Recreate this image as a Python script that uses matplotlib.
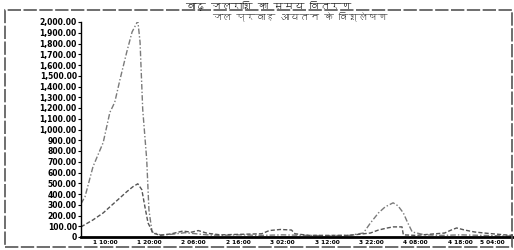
import matplotlib
matplotlib.use("Agg")
import matplotlib.pyplot as plt
from matplotlib import font_manager
from matplotlib.ft2font import FT2Font
from matplotlib.patches import Rectangle

# ---- find a font with Devanagari glyphs, if any ----
deva_family = None
for fe in font_manager.fontManager.ttflist:
    try:
        cm = FT2Font(fe.fname).get_charmap()
        if 0x0915 in cm and 0x093F in cm:
            deva_family = fe.name
            break
    except Exception:
        pass
fams = ([deva_family] if deva_family else []) + ["DejaVu Sans"]

# ---- data ----
title_text = "बाढ़ जलराशि का समय वितरण"
inner_title = "जल प्रवाह आयतन के विश्लेषण"

s1_x = [-5.4, -4.5, -2.7, -0.4, 1.1, 2.2, 3.4, 4.9, 6.1, 7.4, 7.9, 8.5, 9.4, 9.9, 10.6, 12.4,
        15.0, 18.0, 20.5, 23.0, 26.0, 30.0, 35.0, 40.0, 45.0, 50.0, 55.0, 58.2, 59.8, 61.6,
        63.1, 64.9, 66.0, 67.2, 68.1, 69.2, 72.0, 76.0, 80.0, 85.0, 90.0, 92.0]
s1_y = [310, 374, 654, 879, 1159, 1253, 1468, 1720, 1907, 2010, 1814, 1187, 720, 252, 47, 20,
        25, 40, 30, 20, 15, 20, 15, 20, 15, 12, 15, 37, 131, 224,
        280, 318, 290, 224, 140, 47, 20, 15, 20, 15, 10, 10]

s2_x = [-5.4, -2.7, -0.4, 1.1, 3.4, 4.9, 6.3, 7.4, 8.3, 9.0, 9.7, 10.8, 12.5,
        15.0, 17.5, 19.5, 21.0, 23.0, 26.0, 35.3, 37.0, 39.5, 42.0, 42.8, 46.0, 55.0,
        59.8, 61.6, 63.6, 64.9, 66.9, 67.2, 70.0, 76.5, 78.0, 79.2, 81.0, 83.2, 85.4, 90.0, 92.0]
s2_y = [94, 159, 224, 280, 365, 421, 468, 495, 440, 280, 131, 37, 15,
        30, 55, 45, 60, 35, 20, 30, 60, 70, 65, 30, 15, 15,
        37, 65, 84, 94, 94, 20, 15, 37, 65, 84, 65, 47, 37, 20, 15]

y_ticks = list(range(0, 2001, 100))
x_ticks = [0, 10, 20, 30, 40, 50, 60, 70, 80, 90]
x_labels = ["1 10:00", "1 20:00", "2 06:00", "2 16:00", "3 02:00",
            "3 12:00", "3 22:00", "4 08:00", "4 18:00", "5 04:00"]

# ---- figure ----
fig = plt.figure(figsize=(5.14, 2.5), dpi=100)
fig.patch.set_facecolor("white")

# outer frame
fig.add_artist(Rectangle((5 / 514, 3 / 250), 507 / 514, 237 / 250,
                         transform=fig.transFigure, fill=False,
                         edgecolor="#555555", linewidth=1.2, linestyle=(0, (8, 1.5))))

ax = fig.add_axes([81 / 514, 13 / 250, 432 / 514, 215 / 250])
ax.plot(s1_x, s1_y, color="#7a7a7a", linestyle=(0, (4, 1.5, 1, 1.5)), linewidth=1.0)
ax.plot(s2_x, s2_y, color="#555555", linestyle=(0, (3, 1.5)), linewidth=1.0)

ax.set_xlim(-5.4, 91.9)
ax.set_ylim(0, 2000)
ax.set_yticks(y_ticks)
ax.set_yticklabels(["0" if v == 0 else f"{v:,.2f}" for v in y_ticks],
                   fontsize=5.5, fontweight="bold")
ax.set_xticks(x_ticks)
ax.set_xticklabels(x_labels, fontsize=4.2, fontweight="bold")
ax.get_xticklabels()[-1].set_horizontalalignment("right")
ax.tick_params(axis="y", length=2, width=0.8, pad=1)
ax.tick_params(axis="x", length=0, pad=2)
for s in ["top", "right"]:
    ax.spines[s].set_visible(False)
ax.spines["left"].set_linewidth(1.0)
ax.spines["bottom"].set_linewidth(2.0)

fig.text(300 / 514, 1 - 16 / 250, inner_title, ha="center", va="center",
         fontsize=7, color="#444444", family=fams)
fig.text(268 / 514, 1 - 1 / 250, title_text, ha="center", va="top",
         fontsize=7.5, fontweight="bold", color="#222222", family=fams)

fig.savefig("out.png", dpi=100)
